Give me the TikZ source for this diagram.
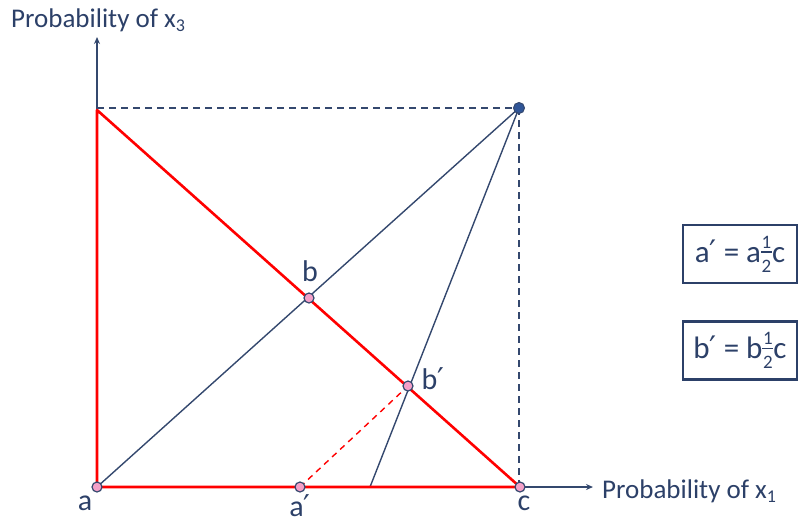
\documentclass[tikz,border=0pt]{standalone}
\usepackage{fontspec}
\setmainfont{Carlito}
\newfontfamily\primefont{DejaVu Sans}
\usetikzlibrary{arrows.meta}
\definecolor{navy}{RGB}{44,64,104}
\definecolor{lineblue}{RGB}{52,72,110}
\definecolor{dotpink}{RGB}{244,160,200}
\definecolor{dotblue}{RGB}{47,85,151}
\tikzset{
  axis/.style={draw=lineblue, line width=1.3pt, -{Stealth[length=7pt,width=6pt]}},
  thin/.style={draw=lineblue, line width=1.4pt},
  guide/.style={draw=lineblue, line width=1.6pt, dash pattern=on 7pt off 5pt},
  redline/.style={draw=red, line width=2.6pt},
  reddash/.style={draw=red, line width=1.4pt, dash pattern=on 6pt off 5pt},
  pt/.style={circle, draw=lineblue, line width=1.2pt, fill=dotpink, inner sep=0pt, minimum size=10pt},
  lbl/.style={text=navy, font=\fontsize{30}{34}\selectfont, inner sep=0pt},
  axlbl/.style={text=navy, font=\fontsize{27}{30}\selectfont, inner sep=0pt, anchor=base west},
  eqbox/.style={draw=navy, line width=2.2pt, text=navy, font=\fontsize{31}{34}\selectfont, minimum width=114pt, minimum height=58pt, inner sep=0pt}
}
\newcommand{\prm}{{\primefont\char"2032}}
\newcommand{\hlf}{\makebox[11pt]{\rlap{\raisebox{14pt}{\fontsize{19}{19}\selectfont\makebox[11pt]{1}}}\rlap{\raisebox{9.4pt}{\rule{11pt}{1.3pt}}}\raisebox{-10pt}{\fontsize{19}{19}\selectfont\makebox[11pt]{2}}}}
\begin{document}
\begin{tikzpicture}[x=1pt,y=-1pt]
\useasboundingbox (0,0) rectangle (800,523);
% coordinates
\coordinate (A) at (97,487);
\coordinate (C) at (520,487);
\coordinate (T) at (97,110);
\coordinate (Ytip) at (97,37);
\coordinate (Xtip) at (593,487);
\coordinate (Ap) at (300,487);
\coordinate (B) at (309,298);
\coordinate (Bp) at (408,386);
\coordinate (F) at (370,487);
\coordinate (TR) at (519,108);
\coordinate (TL) at (97,108);
% axes
\draw[axis] (A) -- (Ytip);
\draw[axis] (C) -- (Xtip);
% guides
\draw[guide] (TL) -- (TR);
\draw[guide] (TR) -- (519,487);
% blue lines
\draw[thin] (A) -- (TR);
\draw[thin] (F) -- (TR);
% red
\draw[reddash] (Ap) -- (Bp);
\draw[redline, line join=round] (C) -- (A) -- (T) -- cycle;
% dots
\node[circle, draw=lineblue, fill=dotblue, line width=1pt, inner sep=0pt, minimum size=11pt] (top) at (TR) {};
\node[pt] (a) at (A) {};
\node[pt] (c) at (C) {};
\node[pt] (ap) at (Ap) {};
\node[pt] (b) at (B) {};
\node[pt] (bp) at (Bp) {};
% labels
\node[lbl] (la) at (85,503) {a};
\node[lbl] (lc) at (524,503) {c};
\node[lbl] (lap) at (300,506) {a\prm};
\node[lbl] (lb) at (310,271) {b};
\node[lbl] (lbp) at (433,379) {b\prm};
\node[axlbl] (lx1) at (602,498) {Probability of x\raisebox{-0.35ex}{\fontsize{18}{20}\selectfont 1}};
\node[axlbl] (lx3) at (11,27) {Probability of x\raisebox{-0.35ex}{\fontsize{18}{20}\selectfont 3}};
% boxes
\node[eqbox] (e1) at (740,254) {a\prm{} = a\hlf c};
\node[eqbox] (e2) at (740,350.5) {b\prm{} = b\hlf c};
\end{tikzpicture}
\end{document}
